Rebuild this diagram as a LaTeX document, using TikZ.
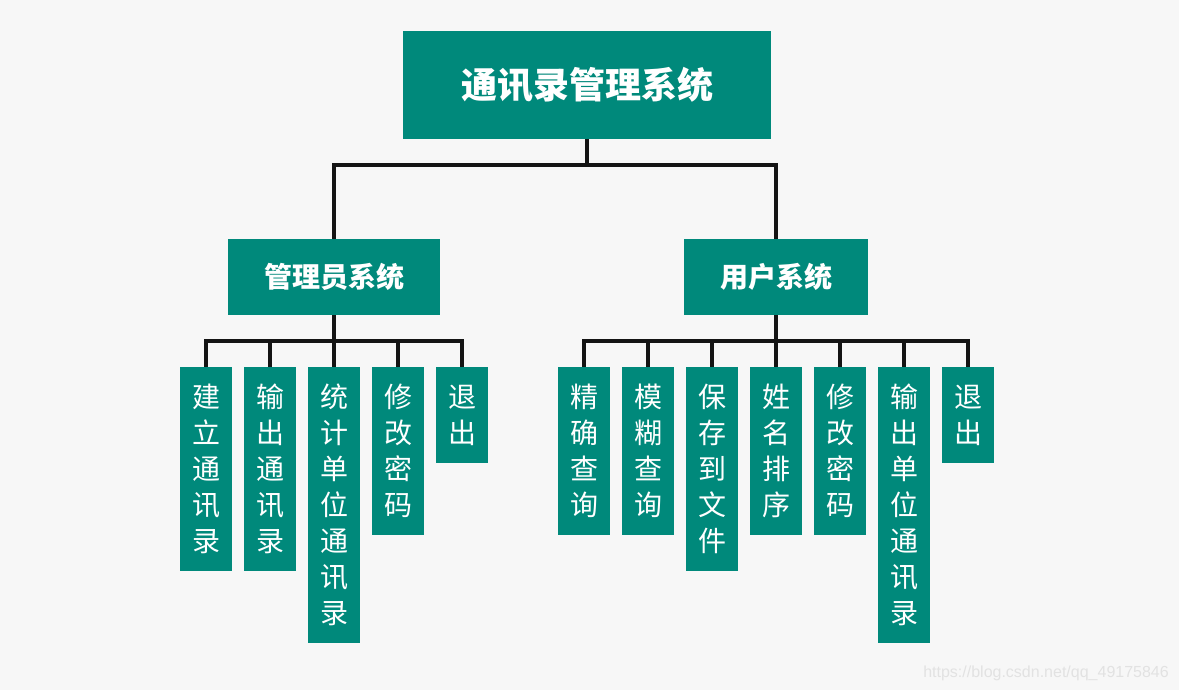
\documentclass[tikz,border=0pt]{standalone}
\usepackage{fontspec}
\setmainfont{Noto Sans CJK SC}
\newfontfamily\wmfont{Liberation Sans}
\definecolor{boxteal}{HTML}{00897B}
\definecolor{bgc}{HTML}{F7F7F7}
\definecolor{linec}{HTML}{141414}
\definecolor{wmc}{HTML}{E2E2E2}
\tikzset{
  box/.style={fill=boxteal, text=white, inner sep=0pt, align=center},
  titlebox/.style={box, minimum width=368, minimum height=108, font=\bfseries\fontsize{36}{40}\selectfont},
  midbox/.style={box, minimum height=76, font=\bfseries\fontsize{28}{32}\selectfont},
  leaf/.style={box, anchor=north, minimum width=52, minimum height=#1*36+24, font=\fontsize{28}{36}\selectfont},
  conn/.style={draw=linec, line width=4pt}
}
\begin{document}
\begin{tikzpicture}[x=1pt,y=-1pt]
\useasboundingbox (0,0) rectangle (1179,690);
\fill[bgc] (0,0) rectangle (1179,690);
% top
\node[titlebox] (top) at (587,85) {通讯录管理系统};
\node[midbox, minimum width=212] (admin) at (334,277) {管理员系统};
\node[midbox, minimum width=184] (user) at (776,277) {用户系统};
% admin leaves
\node[leaf=5] (a1) at (206,367) {建\\立\\通\\讯\\录};
\node[leaf=5] (a2) at (270,367) {输\\出\\通\\讯\\录};
\node[leaf=7] (a3) at (334,367) {统\\计\\单\\位\\通\\讯\\录};
\node[leaf=4] (a4) at (398,367) {修\\改\\密\\码};
\node[leaf=2] (a5) at (462,367) {退\\出};
% user leaves
\node[leaf=4] (u1) at (584,367) {精\\确\\查\\询};
\node[leaf=4] (u2) at (648,367) {模\\糊\\查\\询};
\node[leaf=5] (u3) at (712,367) {保\\存\\到\\文\\件};
\node[leaf=4] (u4) at (776,367) {姓\\名\\排\\序};
\node[leaf=4] (u5) at (840,367) {修\\改\\密\\码};
\node[leaf=7] (u6) at (904,367) {输\\出\\单\\位\\通\\讯\\录};
\node[leaf=2] (u7) at (968,367) {退\\出};
% buses
\coordinate (busT) at (587,165);
\coordinate (busA) at (334,341);
\coordinate (busU) at (776,341);
\draw[conn] (top.south) -- (busT);
\draw[conn] (busT) -| (admin.north);
\draw[conn] (busT) -| (user.north);
\draw[conn] (admin.south) -- (busA);
\draw[conn] (user.south) -- (busU);
\foreach \n in {a1,a2,a3,a4,a5} { \draw[conn] (busA) -| (\n.north); }
\foreach \n in {u1,u2,u3,u4,u5,u6,u7} { \draw[conn] (busU) -| (\n.north); }
% watermark
\node[anchor=base east, text=wmc, font=\wmfont\fontsize{16}{18}\selectfont, inner sep=0pt] (wm) at (1169,677) {https://blog.csdn.net/qq\_49175846};
\end{tikzpicture}
\end{document}
